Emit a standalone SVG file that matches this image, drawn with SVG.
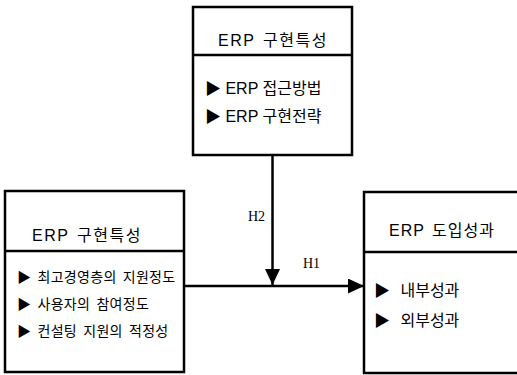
<svg xmlns="http://www.w3.org/2000/svg" width="517" height="375" viewBox="0 0 517 375">
<defs>
<style>
.box{fill:#fff;stroke:#000;stroke-width:2.5}
.div{stroke:#000;stroke-width:2.5}
.t{font-family:"Liberation Sans","Noto Sans CJK KR",sans-serif;fill:#000}
.ti{letter-spacing:1.5px;word-spacing:2px}
.li{font-size:14px;letter-spacing:0.3px;word-spacing:2px}
.h{font-family:"Liberation Serif",serif;font-size:14px;fill:#000}
.ln{stroke:#000;stroke-width:2.5;fill:none}
</style>
<marker id="ah" viewBox="0 0 16 15" refX="16" refY="7.5" markerWidth="16" markerHeight="15" markerUnits="userSpaceOnUse" orient="auto">
<path d="M0,0 L16,7.5 L0,15 Z" fill="#000"/>
</marker>
</defs>
<rect width="517" height="375" fill="#fff"/>
<g id="connectors">
<line class="ln" x1="272.5" y1="156" x2="272.5" y2="285" marker-end="url(#ah)"/>
<line class="ln" x1="185" y1="286" x2="364" y2="286" marker-end="url(#ah)"/>
<text class="h" x="248" y="221">H2</text>
<text class="h" x="303" y="268">H1</text>
</g>
<g id="node-top">
<rect class="box" x="193" y="7" width="159" height="148"/>
<line class="div" x1="193" y1="55" x2="352" y2="55"/>
<text class="t ti" x="218" y="46" font-size="16">ERP 구현특성</text>
<text class="t" x="205" y="94" font-size="16">▶ ERP 접근방법</text>
<text class="t" x="205" y="122" font-size="16">▶ ERP 구현전략</text>
</g>
<g id="node-left">
<rect class="box" x="5" y="191" width="179" height="181"/>
<line class="div" x1="5" y1="251" x2="184" y2="251"/>
<text class="t ti" x="32" y="241" font-size="16">ERP 구현특성</text>
<text class="t li" x="17" y="282">▶ 최고경영층의 지원정도</text>
<text class="t li" x="17" y="309">▶ 사용자의 참여정도</text>
<text class="t li" x="17" y="336">▶ 컨설팅 지원의 적정성</text>
</g>
<g id="node-right">
<rect class="box" x="364" y="192" width="160" height="181"/>
<line class="div" x1="364" y1="252" x2="524" y2="252"/>
<text class="t" x="389" y="236" font-size="16" letter-spacing="1" word-spacing="2">ERP 도입성과</text>
<text class="t" x="374" y="296" font-size="16" word-spacing="6">▶ 내부성과</text>
<text class="t" x="374" y="326" font-size="16" word-spacing="6">▶ 외부성과</text>
</g>
</svg>
